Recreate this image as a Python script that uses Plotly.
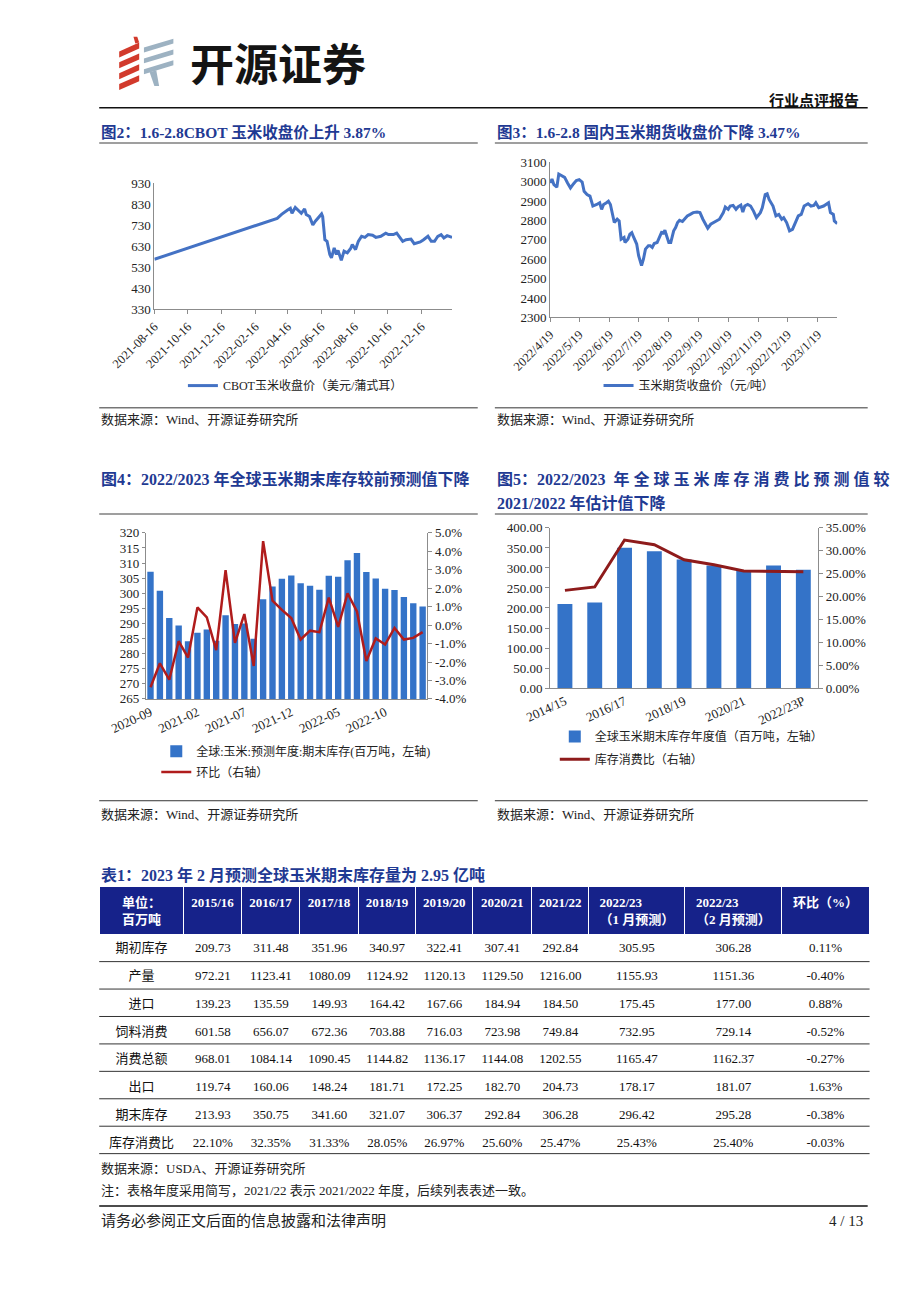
import plotly.graph_objects as go

W, H = 920, 1302


def px(x):
    return x / W


def py(y):
    return 1 - y / H


FONT = "Liberation Serif, Noto Sans CJK SC, serif"
NAVY = "#1F3A93"
BLUE_LINE = "#4472C4"
BAR_BLUE = "#3473C8"
RED4 = "#B01C1C"
RED5 = "#8E1B1B"
AXIS = "#8C8C8C"

# ---------------- Data: Fig 2 CBOT corn close ----------------
cbot_dates = [
    "2021-08-16", "2022-03-21", "2022-03-28", "2022-04-05", "2022-04-12", "2022-04-16",
    "2022-04-21", "2022-04-24", "2022-04-30", "2022-05-06", "2022-05-11", "2022-05-17", "2022-05-20", "2022-05-26",
    "2022-06-01", "2022-06-06", "2022-06-12", "2022-06-17", "2022-06-19", "2022-06-23", "2022-06-27",
    "2022-07-02", "2022-07-05", "2022-07-10", "2022-07-14", "2022-07-17", "2022-07-23", "2022-07-28",
    "2022-08-03", "2022-08-09", "2022-08-12", "2022-08-18", "2022-08-23", "2022-08-29",
    "2022-09-04", "2022-09-10", "2022-09-18", "2022-09-24",
    "2022-10-03", "2022-10-12", "2022-10-17", "2022-10-26",
    "2022-11-01", "2022-11-07", "2022-11-12", "2022-11-18", "2022-11-27",
    "2022-12-03", "2022-12-08", "2022-12-14", "2022-12-20", "2022-12-28",
    "2023-01-03", "2023-01-09", "2023-01-15", "2023-01-21", "2023-01-26",
    "2023-02-01", "2023-02-10",
]
cbot_values = [
    568, 755, 762, 781, 797, 802,
    810, 786, 814, 800, 786, 807, 780, 771,
    731, 750, 771, 783, 770, 661, 653,
    591, 575, 622, 591, 610, 563, 607,
    599, 619, 638, 614, 653, 677,
    672, 685, 682, 672,
    677, 692, 685, 685,
    692, 669, 653, 661, 664,
    642, 645, 650, 661, 677,
    653, 653, 677, 685, 669,
    680, 672,
]
cbot_ticks = ["2021-08-16", "2021-10-16", "2021-12-16", "2022-02-16", "2022-04-16",
              "2022-06-16", "2022-08-16", "2022-10-16", "2022-12-16"]

# ---------------- Data: Fig 3 domestic corn futures ----------------
dce_dates = [
    "2022-04-19", "2022-04-21", "2022-04-23", "2022-04-26", "2022-04-28", "2022-05-01", "2022-05-04",
    "2022-05-07", "2022-05-10", "2022-05-13", "2022-05-16", "2022-05-19", "2022-05-22", "2022-05-24",
    "2022-05-27", "2022-05-30", "2022-06-02", "2022-06-06", "2022-06-09", "2022-06-11", "2022-06-13",
    "2022-06-16", "2022-06-18", "2022-06-20", "2022-06-24", "2022-06-27", "2022-06-29", "2022-07-01",
    "2022-07-04", "2022-07-05", "2022-07-08", "2022-07-10", "2022-07-12", "2022-07-14", "2022-07-17",
    "2022-07-19", "2022-07-22", "2022-07-24", "2022-07-26", "2022-07-29", "2022-07-31", "2022-08-02",
    "2022-08-04", "2022-08-07", "2022-08-09", "2022-08-12", "2022-08-13", "2022-08-15", "2022-08-16",
    "2022-08-19", "2022-08-21", "2022-08-24", "2022-08-26", "2022-08-28", "2022-08-30", "2022-09-02",
    "2022-09-04", "2022-09-07", "2022-09-10", "2022-09-13", "2022-09-17", "2022-09-20", "2022-09-23",
    "2022-09-28", "2022-10-01", "2022-10-06", "2022-10-10", "2022-10-14", "2022-10-16", "2022-10-19",
    "2022-10-21", "2022-10-24", "2022-10-27", "2022-10-29", "2022-11-01", "2022-11-03", "2022-11-05",
    "2022-11-08", "2022-11-11", "2022-11-14", "2022-11-17", "2022-11-21", "2022-11-23", "2022-11-26",
    "2022-11-28", "2022-11-30", "2022-12-04", "2022-12-07", "2022-12-10", "2022-12-13", "2022-12-15",
    "2022-12-18", "2022-12-21", "2022-12-24", "2022-12-27", "2022-12-30", "2023-01-02", "2023-01-05",
    "2023-01-09", "2023-01-12", "2023-01-15", "2023-01-17", "2023-01-20", "2023-01-25", "2023-01-30",
    "2023-02-01", "2023-02-04", "2023-02-05", "2023-02-08",
]
dce_values = [
    2993, 3013, 2984, 2971, 3039, 3032, 3022,
    2993, 2967, 2988, 3005, 3010, 2998, 2950,
    2933, 2925, 2874, 2882, 2891, 2857, 2882,
    2891, 2899, 2882, 2789, 2806, 2797, 2703,
    2712, 2686, 2703, 2729, 2737, 2712, 2678,
    2618, 2567, 2601, 2652, 2669, 2669, 2661,
    2681, 2686, 2712, 2743, 2729, 2749, 2732,
    2686, 2686, 2746, 2763, 2789, 2800, 2794,
    2806, 2823, 2831, 2840, 2843, 2840, 2806,
    2760, 2780, 2794, 2806, 2840, 2869, 2857,
    2874, 2877, 2857, 2869, 2879, 2843, 2874,
    2882, 2874, 2848, 2814, 2840, 2865, 2933,
    2937, 2908, 2874, 2823, 2831, 2806, 2814,
    2789, 2746, 2754, 2789, 2823, 2831, 2874,
    2886, 2874, 2877, 2891, 2865, 2874, 2891,
    2840, 2831, 2797, 2783,
]
dce_ticks = ["2022-04-19", "2022-05-19", "2022-06-19", "2022-07-19", "2022-08-19",
             "2022-09-19", "2022-10-19", "2022-11-19", "2022-12-19", "2023-01-19"]
dce_ticktext = ["2022/4/19", "2022/5/19", "2022/6/19", "2022/7/19", "2022/8/19",
                "2022/9/19", "2022/10/19", "2022/11/19", "2022/12/19", "2023/1/19"]

# ---------------- Data: Fig 4 ----------------
wasde_months = [
    "2020-09", "2020-10", "2020-11", "2020-12", "2021-01", "2021-02", "2021-03", "2021-04",
    "2021-05", "2021-06", "2021-07", "2021-08", "2021-09", "2021-10", "2021-11", "2021-12",
    "2022-01", "2022-02", "2022-03", "2022-04", "2022-05", "2022-06", "2022-07", "2022-08",
    "2022-09", "2022-10", "2022-11", "2022-12", "2023-01", "2023-02",
]
ending_stocks = [
    307.1, 300.8, 291.8, 289.3, 284.1, 286.9, 288.0, 284.3,
    292.7, 289.8, 290.0, 284.9, 298.0, 302.2, 304.8, 305.9,
    303.3, 302.5, 301.2, 305.8, 305.5, 310.9, 313.3, 307.0,
    304.9, 301.5, 301.1, 298.8, 296.7, 295.6,
]
mom_pct = [
    -3.37, -2.07, -2.96, -0.87, -1.76, 0.96, 0.42, -1.35,
    2.98, -0.96, 0.60, -2.21, 4.55, 1.33, 0.83, 0.38,
    -0.78, -0.30, -0.38, 1.49, -0.10, 1.73, 0.74, -1.94,
    -0.72, -1.05, -0.15, -0.78, -0.69, -0.38,
]
fig4_ticks = ["2020-09", "2021-02", "2021-07", "2021-12", "2022-05", "2022-10"]
fig4_right_vals = [-4, -3, -2, -1, 0, 1, 2, 3, 4, 5]
fig4_right_text = ["-4.0%", "-3.0%", "-2.0%", "-1.0%", "0.0%", "1.0%", "2.0%", "3.0%", "4.0%", "5.0%"]

# ---------------- Data: Fig 5 ----------------
seasons = ["2014/15", "2015/16", "2016/17", "2017/18", "2018/19", "2019/20", "2020/21", "2021/22", "2022/23P"]
annual_stocks = [209.73, 213.93, 350.75, 341.60, 321.07, 306.37, 292.84, 306.28, 295.28]
stock_to_use = [21.35, 22.10, 32.35, 31.33, 28.05, 26.97, 25.60, 25.47, 25.40]
fig5_ticks = ["2014/15", "2016/17", "2018/19", "2020/21", "2022/23P"]

# ---------------- Data: Table 1 ----------------
table_header = ["<b>单位：</b><br><b>百万吨</b>", "<b>2015/16</b>", "<b>2016/17</b>", "<b>2017/18</b>",
                "<b>2018/19</b>", "<b>2019/20</b>", "<b>2020/21</b>", "<b>2021/22</b>",
                "<b>2022/23</b><br><b>（1 月预测）</b>", "<b>2022/23</b><br><b>（2 月预测）</b>",
                "<b>环比（%）</b>"]
row_labels = ["期初库存", "产量", "进口", "饲料消费", "消费总额", "出口", "期末库存", "库存消费比"]
row_beginning = ["209.73", "311.48", "351.96", "340.97", "322.41", "307.41", "292.84", "305.95", "306.28", "0.11%"]
row_production = ["972.21", "1123.41", "1080.09", "1124.92", "1120.13", "1129.50", "1216.00", "1155.93", "1151.36", "-0.40%"]
row_imports = ["139.23", "135.59", "149.93", "164.42", "167.66", "184.94", "184.50", "175.45", "177.00", "0.88%"]
row_feed = ["601.58", "656.07", "672.36", "703.88", "716.03", "723.98", "749.84", "732.95", "729.14", "-0.52%"]
row_total = ["968.01", "1084.14", "1090.45", "1144.82", "1136.17", "1144.08", "1202.55", "1165.47", "1162.37", "-0.27%"]
row_exports = ["119.74", "160.06", "148.24", "181.71", "172.25", "182.70", "204.73", "178.17", "181.07", "1.63%"]
row_ending = ["213.93", "350.75", "341.60", "321.07", "306.37", "292.84", "306.28", "296.42", "295.28", "-0.38%"]
row_ratio = ["22.10%", "32.35%", "31.33%", "28.05%", "26.97%", "25.60%", "25.47%", "25.43%", "25.40%", "-0.03%"]
table_rows = [row_beginning, row_production, row_imports, row_feed, row_total, row_exports, row_ending, row_ratio]

fig = go.Figure()

fig.add_trace(go.Scatter(x=cbot_dates, y=cbot_values, mode="lines", xaxis="x", yaxis="y",
                         line=dict(color=BLUE_LINE, width=3), name="CBOT玉米收盘价（美元/蒲式耳）",
                         legend="legend"))
fig.add_trace(go.Scatter(x=dce_dates, y=dce_values, mode="lines", xaxis="x2", yaxis="y2",
                         line=dict(color=BLUE_LINE, width=3), name="玉米期货收盘价（元/吨）",
                         legend="legend2"))
fig.add_trace(go.Bar(x=wasde_months, y=ending_stocks, xaxis="x3", yaxis="y3",
                     marker=dict(color=BAR_BLUE, line=dict(width=0)),
                     name="全球:玉米:预测年度:期末库存(百万吨，左轴)", legend="legend3"))
fig.add_trace(go.Scatter(x=wasde_months, y=mom_pct, mode="lines", xaxis="x3", yaxis="y4",
                         line=dict(color=RED4, width=2.5), name="环比（右轴）", legend="legend4"))
fig.add_trace(go.Bar(x=seasons, y=annual_stocks, xaxis="x4", yaxis="y5", width=0.5,
                     marker=dict(color=BAR_BLUE, line=dict(width=0)),
                     name="全球玉米期末库存年度值（百万吨，左轴）", legend="legend5"))
fig.add_trace(go.Scatter(x=seasons, y=stock_to_use, mode="lines", xaxis="x4", yaxis="y6",
                         line=dict(color=RED5, width=3), name="库存消费比（右轴）", legend="legend6"))

cols = [row_labels] + [[r[i] for r in table_rows] for i in range(10)]
HEADER_H = 48
CELL_H = 27.75
TABLE_TOP = 890
fig.add_trace(go.Table(
    domain=dict(x=[px(57), px(867)], y=[py(1163), py(TABLE_TOP)]),
    columnwidth=[89, 61, 61, 62, 60, 60, 62, 60, 101, 102, 92],
    header=dict(values=table_header, fill_color="#16228A", align="center", height=HEADER_H,
                line=dict(color="white", width=1),
                font=dict(family=FONT, size=13, color="white")),
    cells=dict(values=cols, fill_color="rgba(0,0,0,0)", align="center", height=CELL_H,
               line=dict(color="rgba(0,0,0,0)", width=1),
               font=dict(family=FONT, size=13, color="#111111")),
))

axis_common = dict(showgrid=False, zeroline=False, showline=True, linecolor=AXIS, linewidth=1,
                   tickfont=dict(family=FONT, size=13, color="#222222"), fixedrange=True)

layout_axes = dict(
    xaxis=dict(axis_common, domain=[px(115), px(428)], anchor="y", type="date",
               range=["2021-08-16", "2023-02-10"], tickmode="array", tickvals=cbot_ticks,
               ticktext=cbot_ticks, tickangle=-45, ticks="outside", ticklen=4, tickcolor=AXIS,
               tickfont=dict(family=FONT, size=12.5, color="#222222")),
    yaxis=dict(axis_common, domain=[py(306), py(178)], anchor="x", range=[330, 930],
               tick0=330, dtick=100, ticks=""),
    xaxis2=dict(axis_common, domain=[px(531), px(833)], anchor="y2", type="date",
                range=["2022-04-19", "2023-02-08"], tickmode="array", tickvals=dce_ticks,
                ticktext=dce_ticktext, tickangle=-45, ticks="outside", ticklen=4, tickcolor=AXIS,
                tickfont=dict(family=FONT, size=12.5, color="#222222")),
    yaxis2=dict(axis_common, domain=[py(314), py(157)], anchor="x2", range=[2300, 3100],
                dtick=100, ticks=""),
    xaxis3=dict(axis_common, domain=[px(106), px(402)], anchor="y3", type="category",
                tickmode="array", tickvals=fig4_ticks, ticktext=fig4_ticks, tickangle=-25,
                ticks=""),
    yaxis3=dict(axis_common, domain=[py(700), py(532)], anchor="x3", range=[265, 320],
                dtick=5, ticks="outside", ticklen=3, tickcolor=AXIS),
    yaxis4=dict(axis_common, overlaying="y3", anchor="x3", side="right", range=[-4, 5],
                tickmode="array", tickvals=fig4_right_vals, ticktext=fig4_right_text,
                ticks="outside", ticklen=4, tickcolor=AXIS),
    xaxis4=dict(axis_common, domain=[px(531), px(813)], anchor="y5", type="category",
                tickmode="array", tickvals=fig5_ticks, ticktext=fig5_ticks, tickangle=-25,
                ticks=""),
    yaxis5=dict(axis_common, domain=[py(689), py(527)], anchor="x4", range=[0, 400],
                dtick=50, tickformat=".2f", ticks="outside", ticklen=4, tickcolor=AXIS),
    yaxis6=dict(axis_common, overlaying="y5", anchor="x4", side="right", range=[0, 35],
                dtick=5, tickformat=".2f", ticksuffix="%", ticks="outside", ticklen=4,
                tickcolor=AXIS),
)

legend_common = dict(bgcolor="rgba(0,0,0,0)", borderwidth=0, xanchor="left", yanchor="middle",
                     font=dict(family=FONT, size=12, color="#222222"), orientation="v")
legends = dict(
    legend=dict(legend_common, x=px(145), y=py(383)),
    legend2=dict(legend_common, x=px(582), y=py(383)),
    legend3=dict(legend_common, x=px(117), y=py(753)),
    legend4=dict(legend_common, x=px(117), y=py(774)),
    legend5=dict(legend_common, x=px(536), y=py(738)),
    legend6=dict(legend_common, x=px(536), y=py(761)),
)

ann = []


def text(x, y, s, size=13, color="#222222", xanchor="left", bold=False, family=FONT):
    ann.append(dict(x=px(x), y=py(y), xref="paper", yref="paper", text=(f"<b>{s}</b>" if bold else s),
                    showarrow=False, xanchor=xanchor, yanchor="middle",
                    font=dict(family=family, size=size, color=color)))


text(150, 56, "开源证券", size=44, color="#141414", bold=True, family="Noto Sans CJK SC")
text(858, 95, "行业点评报告", size=15, color="#111111", xanchor="right", bold=True)
text(57, 126, "图2：1.6-2.8CBOT 玉米收盘价上升 3.87%", size=15.5, color=NAVY, bold=True)
text(473, 126, "图3：1.6-2.8 国内玉米期货收盘价下降 3.47%", size=15.5, color=NAVY, bold=True)
text(57, 478, "图4：2022/2023 年全球玉米期末库存较前预测值下降", size=16, color=NAVY, bold=True)
text(473, 478, "图5：2022/2023  年 全 球 玉 米 库 存 消 费 比 预 测 值 较", size=16, color=NAVY, bold=True)
text(473, 502, "2021/2022 年估计值下降", size=16, color=NAVY, bold=True)
text(57, 417, "数据来源：Wind、开源证券研究所", size=13)
text(473, 417, "数据来源：Wind、开源证券研究所", size=13)
text(57, 817, "数据来源：Wind、开源证券研究所", size=13)
text(473, 817, "数据来源：Wind、开源证券研究所", size=13)
text(57, 878, "表1：2023 年 2 月预测全球玉米期末库存量为 2.95 亿吨", size=16, color=NAVY, bold=True)
text(57, 1175, "数据来源：USDA、开源证券研究所", size=13)
text(57, 1197, "注：表格年度采用简写，2021/22 表示 2021/2022 年度，后续列表表述一致。", size=13)
text(57, 1228, "请务必参阅正文后面的信息披露和法律声明", size=15)
text(862, 1228, "4 / 13", size=15, xanchor="right")

shapes = []


def hline(y, x0, x1, color="#222222", width=1):
    shapes.append(dict(type="line", xref="paper", yref="paper", x0=px(x0), x1=px(x1),
                       y0=py(y), y1=py(y), line=dict(color=color, width=width)))


hline(102, 57, 865, "#111111", 1.5)
hline(137.5, 57, 455, "#7F7F7F", 1.5)
hline(137.5, 473, 865, "#7F7F7F", 1.5)
hline(513, 57, 455, "#7F7F7F", 1.5)
hline(513, 473, 865, "#7F7F7F", 1.5)
hline(405.5, 57, 455, "#333333", 1)
hline(405.5, 473, 865, "#333333", 1)
hline(803, 57, 455, "#333333", 1)
hline(803, 473, 865, "#333333", 1)
hline(1213, 57, 865, "#111111", 1.5)
for k in range(1, len(row_labels) + 1):
    hline(TABLE_TOP + HEADER_H + CELL_H * k, 57, 867, "#333333", 1)


def poly(points, color):
    d = "M" + " L".join(f"{px(x):.5f},{py(y):.5f}" for x, y in points) + " Z"
    shapes.append(dict(type="path", xref="paper", yref="paper", path=d,
                       fillcolor=color, line=dict(width=0)))


for i in range(4):
    y = 36 + i * 11
    poly([(78, y + 9), (99, y), (99, y + 6), (78, y + 15)], "#D23A2C")
poly([(93, 30), (97, 30), (99, 36), (95, 37)], "#D23A2C")
for i in range(3):
    y = 32 + i * 11
    poly([(104, y + 9), (135, y), (135, y + 5), (104, y + 14)], "#9DB2C2")
poly([(110, 66), (117, 64), (120, 80), (115, 80)], "#9DB2C2")

fig.update_layout(
    width=W, height=H, margin=dict(l=0, r=0, t=0, b=0),
    paper_bgcolor="white", plot_bgcolor="white",
    font=dict(family=FONT, size=13, color="#222222"),
    bargap=0.32, showlegend=True,
    annotations=ann, shapes=shapes,
    **layout_axes, **legends,
)

fig.write_html("out.html", config={"displayModeBar": False, "staticPlot": True},
               post_script="document.body.style.margin='0px';")
